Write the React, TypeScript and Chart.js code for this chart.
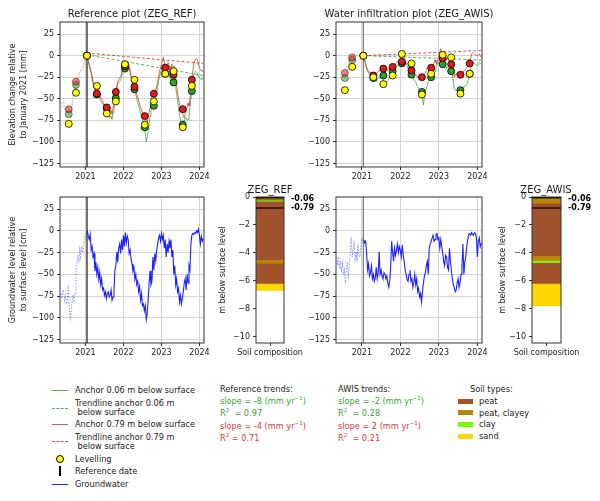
import { useEffect, useRef } from "react"
import { Chart, registerables, type ChartConfiguration, type Plugin } from "chart.js"

Chart.register(...registerables)
Chart.defaults.font.family = "'DejaVu Sans', sans-serif"
Chart.defaults.font.size = 8
Chart.defaults.color = "#222"

// dates as decimal years (roughly every 9 days)
const refDate = 2021.04
const t = [
  2020.35, 2020.375, 2020.4, 2020.425, 2020.45, 2020.475, 2020.5, 2020.525, 2020.55, 2020.575, 2020.6, 2020.625, 2020.65,
  2020.675, 2020.7, 2020.725, 2020.75, 2020.775, 2020.8, 2020.825, 2020.85, 2020.875, 2020.9, 2020.925, 2020.95, 2020.975,
  2021.0, 2021.025, 2021.05, 2021.075, 2021.1, 2021.125, 2021.15, 2021.175, 2021.2, 2021.225, 2021.25, 2021.275, 2021.3, 2021.325,
  2021.35, 2021.375, 2021.4, 2021.425, 2021.45, 2021.475, 2021.5, 2021.525, 2021.55, 2021.575, 2021.6, 2021.625, 2021.65, 2021.675,
  2021.7, 2021.725, 2021.75, 2021.775, 2021.8, 2021.825, 2021.85, 2021.875, 2021.9, 2021.925, 2021.95, 2021.975,
  2022.0, 2022.025, 2022.05, 2022.075, 2022.1, 2022.125, 2022.15, 2022.175, 2022.2, 2022.225, 2022.25, 2022.275, 2022.3, 2022.325,
  2022.35, 2022.375, 2022.4, 2022.425, 2022.45, 2022.475, 2022.5, 2022.525, 2022.55, 2022.575, 2022.6, 2022.625, 2022.65, 2022.675,
  2022.7, 2022.725, 2022.75, 2022.775, 2022.8, 2022.825, 2022.85, 2022.875, 2022.9, 2022.925, 2022.95, 2022.975,
  2023.0, 2023.025, 2023.05, 2023.075, 2023.1, 2023.125, 2023.15, 2023.175, 2023.2, 2023.225, 2023.25, 2023.275, 2023.3, 2023.325,
  2023.35, 2023.375, 2023.4, 2023.425, 2023.45, 2023.475, 2023.5, 2023.525, 2023.55, 2023.575, 2023.6, 2023.625, 2023.65, 2023.675,
  2023.7, 2023.725, 2023.75, 2023.775, 2023.8, 2023.825, 2023.85, 2023.875, 2023.9, 2023.925, 2023.95, 2023.975,
  2024.0, 2024.025, 2024.05, 2024.075, 2024.1,
]

// ZEG_REF anchors [mm]
const refGreen = [
  -55, -57, -60, -58, -62, -63, -64, -66, -68, -70, -72, -68, -60, -52, -45, -38, -34, -31, -28, -24, -20, -18, -16, -17, -12, -8,
  -4, -2, 0, -8, -12, -16, -20, -27, -33, -37, -40, -43, -45, -40, -42, -48, -52, -54, -56, -58,
  -62, -60, -61, -63, -66, -70, -72, -70, -74, -66, -56, -52, -49, -40, -33, -31, -30, -28, -26, -16,
  -12, -14, -14, -12, -16, -12, -14, -20, -25, -30, -34, -32, -40, -45, -50, -54, -58, -62, -66, -70,
  -74, -78, -83, -90, -100, -94, -88, -80, -70, -64, -58, -57, -56, -52, -48, -42, -36, -30, -24, -20,
  -16, -12, -10, -14, -20, -24, -22, -18, -18, -26, -28, -20, -31, -22, -24, -36, -45, -52, -62, -68,
  -74, -77, -80, -78, -76, -72, -72, -75, -74, -70, -60, -50, -41, -30, -22, -20, -18, -19, -20, -24,
  -25, -27, -28, -26, -28,
]
const refRed = [
  -52, -55, -56, -54, -58, -60, -61, -59, -63, -65, -66, -62, -55, -48, -40, -34, -30, -28, -25, -20, -18, -16, -14, -15, -10, -6,
  -3, -1, 0, -6, -10, -14, -18, -24, -30, -35, -38, -42, -44, -38, -40, -46, -48, -50, -52, -55,
  -58, -56, -60, -58, -62, -64, -66, -63, -68, -60, -52, -45, -42, -35, -30, -28, -26, -24, -22, -12,
  -8, -5, -6, -10, -14, -8, -12, -16, -22, -26, -30, -28, -36, -40, -45, -48, -52, -56, -60, -62,
  -66, -68, -70, -72, -75, -78, -72, -66, -60, -52, -48, -46, -44, -42, -40, -36, -30, -24, -18, -14,
  -10, -6, -2, -8, -12, -10, -14, -8, -12, -20, -18, -10, -22, -12, -16, -28, -35, -42, -50, -56,
  -60, -65, -66, -70, -72, -68, -65, -60, -55, -58, -50, -40, -28, -18, -10, -6, -4, -3, -5, -10,
  -14, -16, -18, -17, -19,
]

// ZEG_AWIS anchors [mm]
const awisGreen = [
  -15, -17, -18, -20, -22, -23, -24, -25, -26, -25, -22, -18, -14, -10, -7, -6, -5, -6, -8, -9, -10, -11, -9, -8, -8, -5,
  -3, -1, 0, -6, -12, -15, -18, -20, -22, -23, -25, -24, -26, -28, -26, -30, -28, -27, -26, -25,
  -24, -24, -23, -30, -35, -32, -30, -29, -28, -22, -18, -18, -18, -16, -15, -14, -12, -11, -10, -9,
  -8, -8, -9, -7, -5, -8, -10, -12, -15, -18, -20, -21, -22, -25, -28, -29, -30, -34, -36, -38,
  -40, -41, -42, -50, -57, -48, -40, -38, -35, -30, -28, -27, -25, -18, -12, -15, -18, -14, -10, -9,
  -8, -4, -2, -6, -10, -9, -8, -12, -15, -13, -12, -14, -18, -17, -20, -30, -38, -40, -40, -41,
  -40, -42, -40, -39, -38, -37, -36, -36, -35, -33, -30, -26, -22, -15, -10, -9, -8, -9, -10, -11,
  -12, -10, -8, -9, -10,
]
const awisRed = [
  -12, -14, -15, -16, -17, -18, -19, -18, -20, -19, -16, -14, -10, -8, -5, -4, -3, -5, -6, -7, -8, -6, -5, -5, -4, -3,
  -2, -1, 0, -5, -10, -13, -16, -18, -20, -19, -22, -22, -23, -24, -25, -22, -20, -18, -18, -16,
  -16, -15, -15, -18, -20, -18, -17, -16, -15, -14, -13, -13, -13, -11, -10, -9, -8, -7, -6, -5,
  -5, -6, -7, -4, -3, -6, -8, -9, -10, -14, -17, -16, -17, -19, -20, -21, -22, -24, -25, -25,
  -25, -24, -25, -23, -22, -21, -20, -17, -15, -14, -14, -13, -14, -10, -12, -8, -5, -8, -10, -4,
  0, 4, 8, 2, -3, -1, 0, -4, -5, -2, -3, -6, -10, -4, -5, -12, -25, -22, -22, -20,
  -22, -23, -22, -21, -20, -19, -18, -17, -15, -14, -12, -10, -9, -4, 2, 3, 3, 2, 1, 0,
  0, 1, 2, 0, -2,
]

// groundwater [cm]
const gwRef = [
  -72, -78, -70, -68, -80, -76, -84, -80, -62, -88, -103, -92, -80, -74, -80, -72, -45, -38, -30, -36, -22, -30, -18, -25, -20, -12,
  -6, -2, 0, -6, -10, -4, -22, -18, -30, -26, -46, -36, -50, -42, -56, -48, -62, -55, -68, -66,
  -74, -70, -78, -72, -70, -76, -74, -68, -80, -76, -70, -45, -40, -24, -36, -20, -15, -26, -10, -22,
  -5, -18, -2, -14, -6, -10, -26, -22, -32, -38, -46, -42, -56, -50, -62, -58, -70, -64, -80, -72,
  -86, -84, -92, -86, -102, -95, -80, -60, -46, -62, -58, -30, -45, -26, -34, -22, -15, -8, -5, -12,
  -3, -10, -5, -20, -10, -30, -15, -25, -12, -20, -10, -30, -22, -50, -40, -62, -55, -70, -66, -82,
  -74, -84, -78, -70, -60, -55, -68, -50, -60, -40, -45, -15, -5, -3, -4, -2, -3, 0, -2, 2,
  -5, -15, -6, -12, -9,
]
const gwAwis = [
  -30, -40, -30, -44, -35, -45, -38, -50, -45, -61, -45, -35, -55, -40, -25, -7, -30, -22, -15, -32, -24, -35, -15, -28, -30, -18,
  -8, -12, -10, -14, -12, -25, -45, -38, -52, -48, -40, -55, -50, -58, -54, -42, -55, -48, -24, -50,
  -45, -52, -55, -48, -50, -55, -52, -60, -65, -58, -40, -12, -25, -35, -20, -28, -22, -15, -25, -18,
  -22, -30, -16, -28, -35, -45, -50, -56, -58, -50, -45, -58, -55, -65, -60, -50, -62, -55, -70, -66,
  -76, -72, -82, -70, -60, -52, -48, -40, -35, -50, -20, -15, -12, -8, -5, -12, -10, -4, -3, -10,
  -8, -20, -10, -18, -25, -35, -40, -28, -30, -42, -45, -20, -35, -45, -55, -62, -65, -70, -68, -60,
  -55, -65, -60, -50, -40, -15, -50, -35, -30, -18, -10, -4, -3, -5, -2, -4, -5, -2, -3, -8,
  -30, -12, -8, -18, -14,
]

// levelling campaigns
const levDates = [2020.56, 2020.75, 2021.04, 2021.3, 2021.56, 2021.8, 2022.04, 2022.29, 2022.56, 2022.8, 2023.1, 2023.32, 2023.56, 2023.8]
const refLev = [-79, -43, 0, -35, -67, -53, -10, -28, -80, -53, -21, -18, -83, -35]
const refLevRed = [-62, -30, 0, -44, -60, -42, -12, -36, -70, -44, -14, -22, -62, -28]
const refLevGreen = [-68, -34, 0, -45, -61, -49, -15, -39, -83, -58, -21, -31, -80, -41]
const awisLev = [-40, -13, 0, -25, -33, -23, 2, -9, -45, -21, 1, -2, -44, -21]
const awisLevRed = [-20, -2, 0, -23, -15, -13, -7, -17, -25, -14, -3, -10, -22, -9]
const awisLevGreen = [-26, -5, 0, -26, -23, -18, -9, -22, -42, -25, -10, -18, -40, -21]

// trendlines
const trendDates = [2021.04, 2024.1]
const refTrendGreen = [1, -23]
const refTrendRed = [3, -9]
const awisTrendGreen = [0, -5]
const awisTrendRed = [0, 6]

const yearTicks = [2021, 2022, 2023, 2024]
const elevTicks = [-125, -100, -75, -50, -25, 0, 25]
const depthTicks = [-10, -8, -6, -4, -2, 0]

// soil columns [m]
const refLayerTop = [0, -0.15, -0.22, -0.3, -4.5, -4.75, -6.2]
const refLayerBottom = [-0.15, -0.22, -0.3, -4.5, -4.75, -6.2, -6.7]
const refLayerSoil = ["peat, clayey", "peat", "clay", "peat", "peat, clayey", "peat", "sand"]
const awisLayerTop = [0, -0.45, -4.2, -4.55, -4.7, -6.2]
const awisLayerBottom = [-0.45, -4.2, -4.55, -4.7, -6.2, -7.8]
const awisLayerSoil = ["peat, clayey", "peat", "peat, clayey", "clay", "peat", "sand"]
const anchorDepths = [-0.06, -0.79]
const anchorLabels = ["-0.06", "-0.79"]

const soilTypes = ["peat", "peat, clayey", "clay", "sand"]
const soilColor: Record<string, string> = {
  peat: "#a0522d",
  "peat, clayey": "#b8860b",
  clay: "#7cfc00",
  sand: "#ffd700",
}

const GREEN = "rgba(44,160,44,0.8)"
const GREEN_F = "rgba(44,160,44,0.4)"
const RED = "rgba(214,39,40,0.8)"
const RED_F = "rgba(214,39,40,0.4)"
const BLUE = "rgba(0,0,255,0.88)"
const BLUE_F = "rgba(0,0,255,0.4)"
const FONT = "'DejaVu Sans', sans-serif"
const minus = (v: number | string) => String(v).replace("-", "\u2212")

const framePlugin: Plugin = {
  id: "frame",
  afterDatasetsDraw(chart) {
    const { ctx, chartArea: a } = chart
    ctx.save()
    ctx.strokeStyle = "#333"
    ctx.lineWidth = 1
    ctx.strokeRect(a.left, a.top, a.right - a.left, a.bottom - a.top)
    ctx.restore()
  },
}

function refLinePlugin(color: string): Plugin {
  return {
    id: "refLine",
    beforeDatasetsDraw(chart) {
      const { ctx, chartArea: a, scales } = chart
      const x = scales.x.getPixelForValue(refDate)
      ctx.save()
      ctx.strokeStyle = color
      ctx.lineWidth = 1.2
      ctx.beginPath()
      ctx.moveTo(x, a.top)
      ctx.lineTo(x, a.bottom)
      ctx.stroke()
      ctx.restore()
    },
  }
}

type Line = { y: number[]; color: string; faded: string; width: number }
type Marks = { y: number[]; color: string; faded: string }

function timeChart(p: {
  lines: Line[]
  trends: { y: number[]; color: string }[]
  marks: Marks[]
  yTitle?: string[]
  yWidth: number
  padTop: number
  padRight: number
  refColor: string
}): ChartConfiguration {
  const datasets: any[] = []
  p.marks.forEach((m) =>
    datasets.push({
      data: levDates.map((x, i) => ({ x, y: m.y[i] })),
      showLine: false,
      pointRadius: 3.5,
      pointBorderWidth: 0.8,
      pointBackgroundColor: levDates.map((d) => (d < refDate - 0.01 ? m.faded : m.color)),
      pointBorderColor: levDates.map((d) => (d < refDate - 0.01 && m.faded !== m.color ? "rgba(0,0,0,0.5)" : "#000")),
    })
  )
  p.trends.forEach((tr) =>
    datasets.push({
      data: trendDates.map((x, i) => ({ x, y: tr.y[i] })),
      borderColor: tr.color,
      borderWidth: 1,
      borderDash: [3, 2],
      pointRadius: 0,
    })
  )
  p.lines.forEach((l) =>
    datasets.push({
      data: t.map((x, i) => ({ x, y: l.y[i] })),
      borderColor: l.color,
      borderWidth: l.width,
      pointRadius: 0,
      tension: 0,
      segment: {
        borderColor: (c: any) => (c.p0.parsed.x < refDate ? l.faded : undefined),
        borderDash: (c: any) => (c.p0.parsed.x < refDate ? [1.5, 1.5] : undefined),
      },
    })
  )
  return {
    type: "line",
    data: { datasets },
    options: {
      responsive: false,
      animation: false,
      events: [],
      layout: { padding: { top: p.padTop, right: p.padRight, left: 0, bottom: 0 } },
      plugins: { legend: { display: false }, tooltip: { enabled: false } },
      scales: {
        x: {
          type: "linear",
          min: 2020.33,
          max: 2024.12,
          afterBuildTicks: (s: any) => {
            s.ticks = yearTicks.map((value) => ({ value }))
          },
          afterFit: (s: any) => {
            s.height = 18
            s.paddingLeft = 0
            s.paddingRight = 0
          },
          ticks: { callback: (v: any) => String(v), maxRotation: 0, autoSkip: false, padding: 2, color: "#222" },
          grid: { color: "#d4d4d4", tickLength: 3, tickColor: "#333" },
          border: { display: false },
        },
        y: {
          min: -129,
          max: 39,
          afterBuildTicks: (s: any) => {
            s.ticks = elevTicks.map((value) => ({ value }))
          },
          afterFit: (s: any) => {
            s.width = p.yWidth
            s.paddingTop = 0
            s.paddingBottom = 0
          },
          ticks: { callback: (v: any) => minus(v), padding: 3, color: "#222" },
          grid: { color: "#d4d4d4", tickLength: 3, tickColor: "#333" },
          border: { display: false },
          title: p.yTitle
            ? { display: true, text: p.yTitle, font: { size: 8, lineHeight: 1.3 }, padding: { top: 8, bottom: 0 }, color: "#222" }
            : { display: false },
        },
      },
    },
    plugins: [refLinePlugin(p.refColor), framePlugin],
  }
}

function soilChart(p: {
  top: number[]
  bottom: number[]
  soil: string[]
  yWidth: number
  padRight: number
  titlePad: number
}): ChartConfiguration {
  const anchors: Plugin = {
    id: "anchors",
    afterDatasetsDraw(chart) {
      const { ctx, chartArea: a, scales } = chart
      ctx.save()
      anchorDepths.forEach((d, i) => {
        const y = scales.y.getPixelForValue(d)
        ctx.strokeStyle = "#000"
        ctx.lineWidth = 1.2
        ctx.beginPath()
        ctx.moveTo(a.left, y)
        ctx.lineTo(a.right, y)
        ctx.stroke()
        ctx.fillStyle = "#000"
        ctx.font = `bold 8px ${FONT}`
        ctx.textBaseline = "middle"
        ctx.fillText(anchorLabels[i], a.right + 7, y + (i === 0 ? 1.5 : 0))
      })
      ctx.restore()
    },
  }
  return {
    type: "bar",
    data: {
      labels: ["Soil composition"],
      datasets: p.soil.map((s, i) => ({
        data: [[p.bottom[i], p.top[i]]] as any,
        backgroundColor: soilColor[s],
        borderWidth: 0,
        grouped: false,
        barPercentage: 1,
        categoryPercentage: 1,
      })),
    },
    options: {
      responsive: false,
      animation: false,
      events: [],
      layout: { padding: { top: 12, right: p.padRight, left: 0, bottom: 0 } },
      plugins: { legend: { display: false }, tooltip: { enabled: false } },
      scales: {
        x: {
          afterFit: (s: any) => {
            s.height = 18
            s.paddingLeft = 0
            s.paddingRight = 0
          },
          ticks: { padding: 2, color: "#222", maxRotation: 0 },
          grid: { drawOnChartArea: false, offset: false, tickLength: 3, tickColor: "#333" },
          border: { display: false },
        },
        y: {
          min: -10.47,
          max: 0,
          afterBuildTicks: (s: any) => {
            s.ticks = depthTicks.map((value) => ({ value }))
          },
          afterFit: (s: any) => {
            s.width = p.yWidth
            s.paddingTop = 0
            s.paddingBottom = 0
          },
          ticks: { callback: (v: any) => minus(v), padding: 3, color: "#222" },
          grid: { drawOnChartArea: false, tickLength: 3, tickColor: "#333" },
          border: { display: false },
          title: { display: true, text: "m below surface level", font: { size: 8 }, padding: { top: p.titlePad, bottom: 0 }, color: "#222" },
        },
      },
    },
    plugins: [framePlugin, anchors],
  }
}

function ChartCanvas(props: { make: () => ChartConfiguration; left: number; top: number; width: number; height: number }) {
  const ref = useRef<HTMLCanvasElement>(null)
  useEffect(() => {
    if (!ref.current) return
    const chart = new Chart(ref.current, props.make())
    return () => chart.destroy()
  }, [])
  const { left, top, width, height } = props
  return <canvas ref={ref} width={width} height={height} style={{ position: "absolute", left, top, width, height }} />
}

function Txt(props: { x: number; cy: number; color?: string; children: any; size?: number; center?: boolean }) {
  const size = props.size ?? 8.2
  const h = size + 4
  return (
    <div
      style={{
        position: "absolute",
        left: props.center ? props.x - 150 : props.x,
        width: props.center ? 300 : undefined,
        textAlign: props.center ? "center" : "left",
        top: props.cy - h / 2,
        height: h,
        lineHeight: `${h}px`,
        fontSize: size,
        fontFamily: FONT,
        color: props.color ?? "#1a1a1a",
        whiteSpace: "pre",
      }}
    >
      {props.children}
    </div>
  )
}

function HLine(props: { y: number; color: string; dashed?: boolean }) {
  return (
    <div
      style={{
        position: "absolute",
        left: 52,
        top: props.y - 0.5,
        width: 16,
        height: 0,
        borderTop: `1px ${props.dashed ? "dashed" : "solid"} ${props.color}`,
      }}
    />
  )
}

const sup = (s: string) => <sup style={{ fontSize: 5.5, lineHeight: 0 }}>{s}</sup>

function Legend() {
  const tG = "#3a9f3a"
  const tR = "#d93a3a"
  return (
    <>
      <HLine y={390} color={GREEN} />
      <Txt x={75} cy={390}>Anchor 0.06 m below surface</Txt>
      <HLine y={408} color={GREEN} dashed />
      <Txt x={75} cy={403}>Trendline anchor 0.06 m</Txt>
      <Txt x={75} cy={412}> below surface</Txt>
      <HLine y={424} color={RED} />
      <Txt x={75} cy={424}>Anchor 0.79 m below surface</Txt>
      <HLine y={441.5} color={RED} dashed />
      <Txt x={75} cy={437}>Trendline anchor 0.79 m</Txt>
      <Txt x={75} cy={446}> below surface</Txt>
      <div style={{ position: "absolute", left: 56, top: 455, width: 6.4, height: 6.4, borderRadius: "50%", background: "#ffff00", border: "0.8px solid #000" }} />
      <Txt x={75} cy={459}>Levelling</Txt>
      <div style={{ position: "absolute", left: 59, top: 466, width: 1.6, height: 10, background: "#000" }} />
      <Txt x={75} cy={471}>Reference date</Txt>
      <HLine y={484} color={BLUE} />
      <Txt x={75} cy={484}>Groundwater</Txt>

      <Txt x={220} cy={389}>Reference trends:</Txt>
      <Txt x={220} cy={401} color={tG}>slope = -8 (mm yr{sup("\u22121")})</Txt>
      <Txt x={220} cy={413.5} color={tG}>R{sup("2")}  = 0.97</Txt>
      <Txt x={220} cy={426} color={tR}>slope = -4 (mm yr{sup("\u22121")})</Txt>
      <Txt x={220} cy={438.5} color={tR}>R{sup("2")} = 0.71</Txt>

      <Txt x={338} cy={389}>AWIS trends:</Txt>
      <Txt x={338} cy={401} color={tG}>slope = -2 (mm yr{sup("\u22121")})</Txt>
      <Txt x={338} cy={413.5} color={tG}>R{sup("2")}  = 0.28</Txt>
      <Txt x={338} cy={426} color={tR}>slope = 2 (mm yr{sup("\u22121")})</Txt>
      <Txt x={338} cy={438.5} color={tR}>R{sup("2")}  = 0.21</Txt>

      <Txt x={470} cy={389}>Soil types:</Txt>
      {soilTypes.map((s, i) => (
        <div key={s}>
          <div style={{ position: "absolute", left: 458, top: 398.5 + i * 11.7, width: 15, height: 5, background: soilColor[s] }} />
          <Txt x={479} cy={401 + i * 11.7}>{s}</Txt>
        </div>
      ))}
    </>
  )
}

export default function App() {
  return (
    <div style={{ position: "absolute", left: 0, top: 0, width: 600, height: 501, background: "#fff", overflow: "hidden" }}>
      <ChartCanvas
        left={0}
        top={0}
        width={210}
        height={185}
        make={() =>
          timeChart({
            lines: [
              { y: refRed, color: RED, faded: RED_F, width: 0.9 },
              { y: refGreen, color: GREEN, faded: GREEN_F, width: 0.9 },
            ],
            trends: [
              { y: refTrendRed, color: RED },
              { y: refTrendGreen, color: GREEN },
            ],
            marks: [
              { y: refLev, color: "#ffff00", faded: "#ffff00" },
              { y: refLevRed, color: "#e3191c", faded: "rgba(227,25,28,0.55)" },
              { y: refLevGreen, color: "#2ca02c", faded: "rgba(44,160,44,0.55)" },
            ],
            yTitle: ["Elevation change relative", "to January 2021 [mm]"],
            yWidth: 60,
            padTop: 22,
            padRight: 6,
            refColor: "#111",
          })
        }
      />
      <ChartCanvas
        left={280}
        top={0}
        width={208}
        height={185}
        make={() =>
          timeChart({
            lines: [
              { y: awisRed, color: RED, faded: RED_F, width: 0.9 },
              { y: awisGreen, color: GREEN, faded: GREEN_F, width: 0.9 },
            ],
            trends: [
              { y: awisTrendRed, color: RED },
              { y: awisTrendGreen, color: GREEN },
            ],
            marks: [
              { y: awisLev, color: "#ffff00", faded: "#ffff00" },
              { y: awisLevRed, color: "#e3191c", faded: "rgba(227,25,28,0.55)" },
              { y: awisLevGreen, color: "#2ca02c", faded: "rgba(44,160,44,0.55)" },
            ],
            yWidth: 56,
            padTop: 22,
            padRight: 6,
            refColor: "#777",
          })
        }
      />
      <ChartCanvas
        left={0}
        top={185}
        width={210}
        height={176}
        make={() =>
          timeChart({
            lines: [{ y: gwRef, color: BLUE, faded: BLUE_F, width: 1.1 }],
            trends: [],
            marks: [],
            yTitle: ["Groundwater level relative", "to surface level [cm]"],
            yWidth: 60,
            padTop: 12,
            padRight: 6,
            refColor: "#111",
          })
        }
      />
      <ChartCanvas
        left={280}
        top={185}
        width={208}
        height={176}
        make={() =>
          timeChart({
            lines: [{ y: gwAwis, color: BLUE, faded: BLUE_F, width: 1.1 }],
            trends: [],
            marks: [],
            yWidth: 56,
            padTop: 12,
            padRight: 6,
            refColor: "#777",
          })
        }
      />
      <ChartCanvas
        left={212}
        top={185}
        width={120}
        height={176}
        make={() =>
          soilChart({ top: refLayerTop, bottom: refLayerBottom, soil: refLayerSoil, yWidth: 44, padRight: 48, titlePad: 6 })
        }
      />
      <ChartCanvas
        left={488}
        top={185}
        width={112}
        height={176}
        make={() =>
          soilChart({ top: awisLayerTop, bottom: awisLayerBottom, soil: awisLayerSoil, yWidth: 44, padRight: 39, titlePad: 10 })
        }
      />
      <Txt x={132} cy={14} size={10} center>Reference plot (ZEG_REF)</Txt>
      <Txt x={409} cy={14} size={10} center>Water infiltration plot (ZEG_AWIS)</Txt>
      <Txt x={270} cy={190} size={10} center>ZEG_REF</Txt>
      <Txt x={546} cy={190} size={10} center>ZEG_AWIS</Txt>
      <Legend />
    </div>
  )
}
